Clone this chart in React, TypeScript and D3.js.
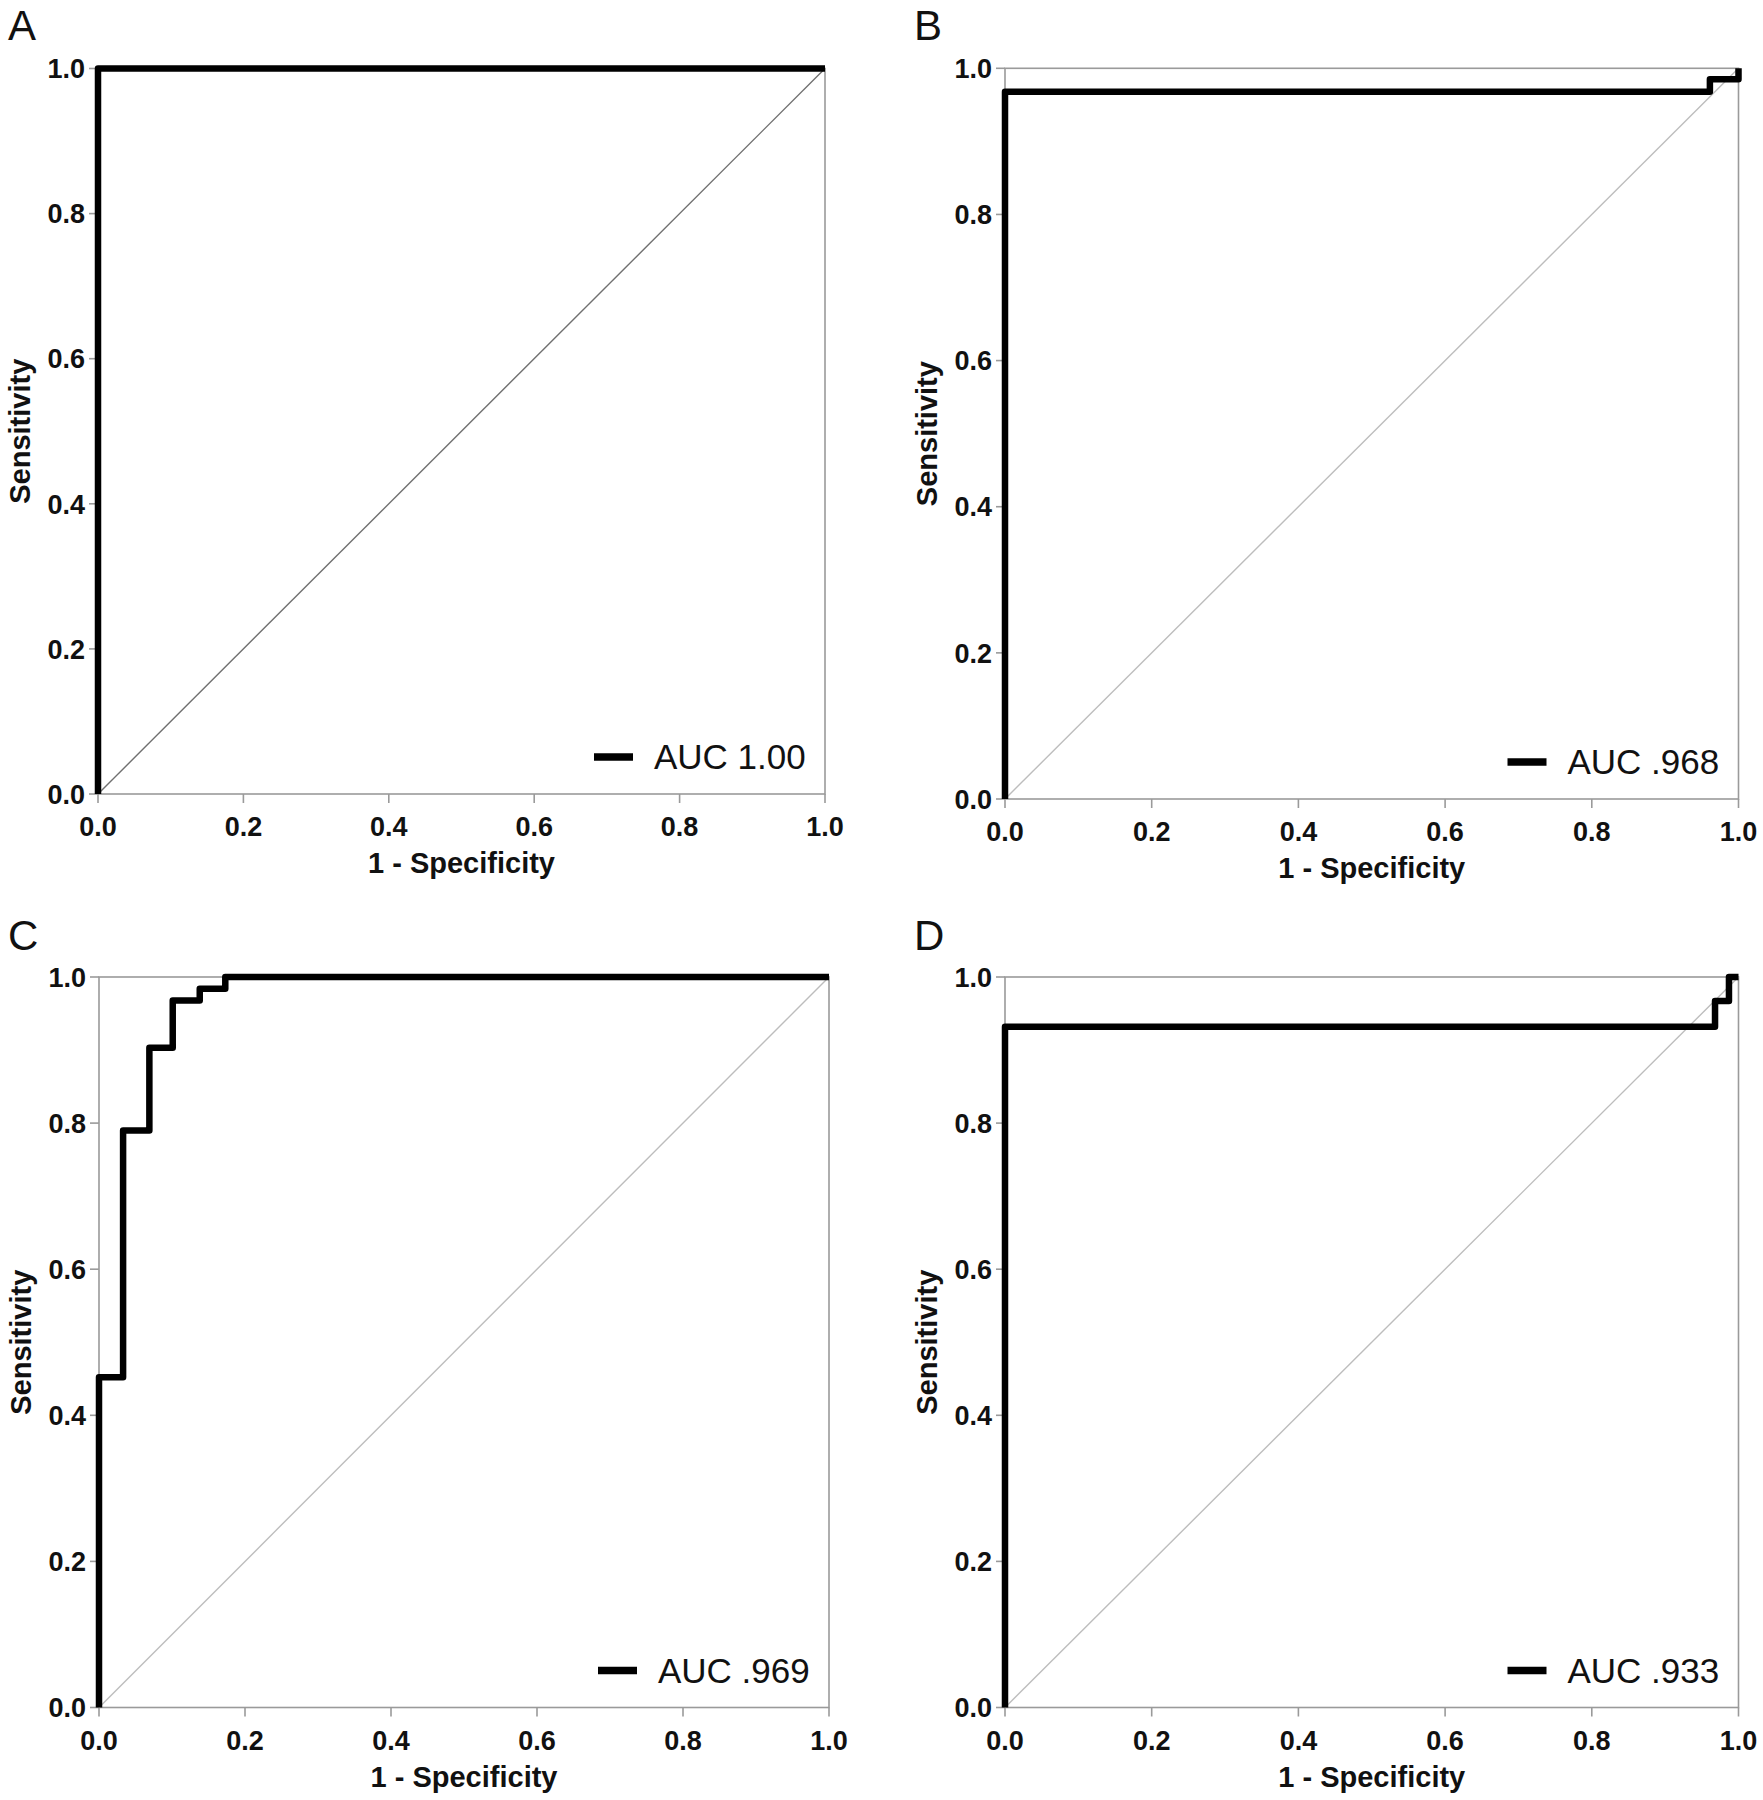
import React from "react";
import * as d3 from "d3";

const ticks = [0, 0.2, 0.4, 0.6, 0.8, 1.0];
const tickLabels = ["0.0", "0.2", "0.4", "0.6", "0.8", "1.0"];

const panelLetters = ["A", "B", "C", "D"];
const aucLabels = ["AUC 1.00", "AUC .968", "AUC .969", "AUC .933"];

const fprA = [0, 0, 1];
const tprA = [0, 1, 1];
const fprB = [0, 0, 0.961, 0.961, 1, 1];
const tprB = [0, 0.968, 0.968, 0.985, 0.985, 1];
const fprC = [0, 0, 0.033, 0.033, 0.069, 0.069, 0.101, 0.101, 0.138, 0.138, 0.173, 0.173, 1];
const tprC = [0, 0.452, 0.452, 0.79, 0.79, 0.903, 0.903, 0.968, 0.968, 0.984, 0.984, 1, 1];
const fprD = [0, 0, 0.968, 0.968, 0.987, 0.987, 1];
const tprD = [0, 0.932, 0.932, 0.967, 0.967, 1, 1];

const xTitle = "1 - Specificity";
const yTitle = "Sensitivity";

const FONT = "'Liberation Sans', Arial, Helvetica, sans-serif";

type Layout = { x0: number; x1: number; yTop: number; yBot: number; diag: string; letterX: number; letterY: number };

const layouts: Layout[] = [
  { x0: 98, x1: 825, yTop: 68.5, yBot: 794, diag: "#707070", letterX: 8, letterY: 40 },
  { x0: 1005, x1: 1738.5, yTop: 68.3, yBot: 799, diag: "#bdbdbd", letterX: 914, letterY: 40 },
  { x0: 99, x1: 829, yTop: 977, yBot: 1707.5, diag: "#bdbdbd", letterX: 8, letterY: 950 },
  { x0: 1005, x1: 1738.5, yTop: 977, yBot: 1707.5, diag: "#bdbdbd", letterX: 914, letterY: 950 },
];

const series = [
  [fprA, tprA],
  [fprB, tprB],
  [fprC, tprC],
  [fprD, tprD],
];

function Panel({ i }: { i: number }) {
  const L = layouts[i];
  const x = d3.scaleLinear().domain([0, 1]).range([L.x0, L.x1]);
  const y = d3.scaleLinear().domain([0, 1]).range([L.yBot, L.yTop]);
  const [fx, ty] = series[i];
  const pts: [number, number][] = fx.map((v, k) => [v, ty[k]]);
  const line = d3
    .line<[number, number]>()
    .x((d) => x(d[0]))
    .y((d) => y(d[1]));
  const axisColor = "#9a9a9a";
  const cx = (L.x0 + L.x1) / 2;
  const cy = (L.yTop + L.yBot) / 2;
  return (
    <g>
      <text x={L.letterX} y={L.letterY} fontFamily={FONT} fontSize={42} fill="#111">
        {panelLetters[i]}
      </text>
      <rect
        x={L.x0}
        y={L.yTop}
        width={L.x1 - L.x0}
        height={L.yBot - L.yTop}
        fill="none"
        stroke={axisColor}
        strokeWidth={1.6}
      />
      {ticks.map((t, k) => (
        <g key={"y" + k}>
          <line x1={L.x0 - 9} x2={L.x0} y1={y(t)} y2={y(t)} stroke={axisColor} strokeWidth={1.6} />
          <text
            x={L.x0 - 13}
            y={y(t)}
            dy="0.36em"
            textAnchor="end"
            fontFamily={FONT}
            fontWeight="bold"
            fontSize={27}
            fill="#111"
          >
            {tickLabels[k]}
          </text>
        </g>
      ))}
      {ticks.map((t, k) => (
        <g key={"x" + k}>
          <line x1={x(t)} x2={x(t)} y1={L.yBot} y2={L.yBot + 9} stroke={axisColor} strokeWidth={1.6} />
          <text
            x={x(t)}
            y={L.yBot + 42}
            textAnchor="middle"
            fontFamily={FONT}
            fontWeight="bold"
            fontSize={27}
            fill="#111"
          >
            {tickLabels[k]}
          </text>
        </g>
      ))}
      <line x1={x(0)} y1={y(0)} x2={x(1)} y2={y(1)} stroke={L.diag} strokeWidth={1.4} />
      <path d={line(pts) || ""} fill="none" stroke="#000" strokeWidth={6.5} strokeLinejoin="round" />
      <line
        x1={L.x1 - 231}
        x2={L.x1 - 192}
        y1={L.yBot - 37}
        y2={L.yBot - 37}
        stroke="#000"
        strokeWidth={7.5}
      />
      <text x={L.x1 - 171} y={L.yBot - 25} fontFamily={FONT} fontSize={35} fill="#111">
        {aucLabels[i]}
      </text>
      <text
        x={cx}
        y={L.yBot + 79}
        textAnchor="middle"
        fontFamily={FONT}
        fontWeight="bold"
        fontSize={29}
        fill="#111"
      >
        {xTitle}
      </text>
      <text
        transform={`translate(${L.x0 - 68},${cy}) rotate(-90)`}
        textAnchor="middle"
        fontFamily={FONT}
        fontWeight="bold"
        fontSize={29}
        fill="#111"
      >
        {yTitle}
      </text>
    </g>
  );
}

export default function App() {
  return (
    <svg
      width={1763}
      height={1800}
      style={{ position: "absolute", left: 0, top: 0, background: "#fff" }}
    >
      <rect x={0} y={0} width={1763} height={1800} fill="#fff" />
      {layouts.map((_, i) => (
        <Panel key={i} i={i} />
      ))}
    </svg>
  );
}
